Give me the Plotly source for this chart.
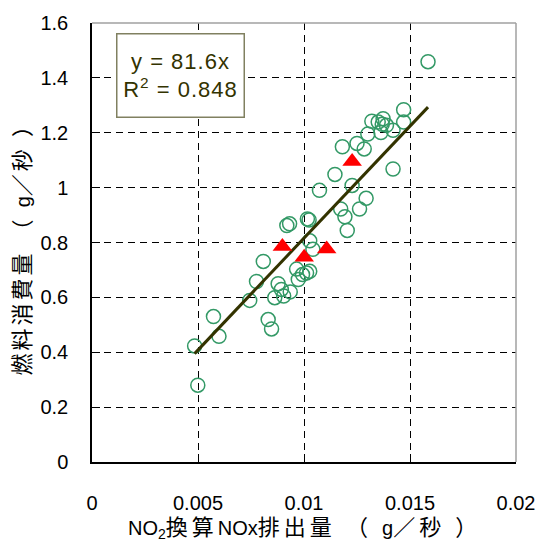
import plotly.graph_objects as go
import numpy as np

# green open circles: NOx emission (g/s) vs fuel consumption (g/s)
nox_circles = [
    0.00499, 0.00484, 0.00573, 0.00599, 0.00744, 0.00776, 0.00808, 0.00831,
    0.00847, 0.00878, 0.00893, 0.00862, 0.00904, 0.00935, 0.00919, 0.00932,
    0.01016, 0.01024, 0.01027, 0.01042, 0.00965, 0.00973, 0.00993, 0.01012,
    0.01027, 0.01073, 0.01173, 0.01193, 0.01204, 0.01262, 0.01293, 0.01227,
    0.01585, 0.01470, 0.01470, 0.01320, 0.01350, 0.01373, 0.01369, 0.01389,
    0.01363, 0.01420, 0.01301, 0.01250, 0.01284, 0.01181, 0.01420, 0.01146,
]
fuel_circles = [
    0.280, 0.423, 0.530, 0.458, 0.589, 0.658, 0.731, 0.519,
    0.485, 0.650, 0.629, 0.599, 0.605, 0.620, 0.862, 0.868,
    0.886, 0.882, 0.806, 0.775, 0.703, 0.665, 0.683, 0.689,
    0.695, 0.990, 0.922, 0.894, 0.844, 0.922, 0.961, 1.008,
    1.459, 1.284, 1.239, 1.242, 1.239, 1.251, 1.231, 1.227,
    1.201, 1.209, 1.195, 1.161, 1.141, 1.149, 1.068, 1.048,
]

# red triangles
nox_tri = [0.00898, 0.01001, 0.01107, 0.01227]
fuel_tri = [0.785, 0.746, 0.776, 1.095]

slope = 81.6
r2 = 0.848

x_ticks = [0, 0.005, 0.01, 0.015, 0.02]
x_tick_text = ["0", "0.005", "0.01", "0.015", "0.02"]
y_ticks = [0, 0.2, 0.4, 0.6, 0.8, 1.0, 1.2, 1.4, 1.6]
y_tick_text = ["0", "0.2", "0.4", "0.6", "0.8", "1", "1.2", "1.4", "1.6"]

FONT = "Liberation Sans, Arial, Noto Sans CJK JP"
CJKX = "font-size:22px;letter-spacing:4px"
CJKY = "font-size:22px;letter-spacing:3px"

x_title = (f"NO<sub>2</sub><span style='{CJKX}'>換算</span>NOx"
           f"<span style='{CJKX}'>排出量 （ </span>g<span style='{CJKX}'>／秒 ）</span>")
y_title = f"<span style='{CJKY}'>燃料消費量 （ </span>g<span style='{CJKY}'>／秒 ）</span>"

fig = go.Figure()
fig.add_trace(go.Scatter(
    x=nox_circles, y=fuel_circles, mode="markers",
    marker=dict(symbol="circle-open", size=14, color="rgb(51,153,102)",
                line=dict(width=1.5, color="rgb(51,153,102)")),
    showlegend=False, hoverinfo="skip"))

xl = np.array([min(nox_circles + nox_tri), max(nox_circles + nox_tri)])
fig.add_trace(go.Scatter(
    x=xl, y=slope * xl, mode="lines",
    line=dict(color="#333300", width=3), showlegend=False, hoverinfo="skip"))

fig.add_trace(go.Scatter(
    x=nox_tri, y=fuel_tri, mode="markers",
    marker=dict(symbol="triangle-up", size=17, color="#ff0000"),
    showlegend=False, hoverinfo="skip"))

fig.update_layout(
    width=547, height=549,
    margin=dict(l=91.5, r=24, t=15, b=87, pad=0),
    paper_bgcolor="white", plot_bgcolor="white",
    font=dict(family=FONT, size=20, color="black"),
    xaxis=dict(range=[0, 0.02], tickvals=x_ticks, ticktext=x_tick_text,
               showline=True, linecolor="black", linewidth=1.5,
               ticks="inside", ticklen=8, tickcolor="black", tickwidth=1,
               showgrid=True, gridcolor="black", gridwidth=1, griddash="7px,5px",
               zeroline=False, ticklabelstandoff=22,
               tickfont=dict(family=FONT, size=20)),
    yaxis=dict(range=[0, 1.6], tickvals=y_ticks, ticktext=y_tick_text,
               showline=True, linecolor="black", linewidth=1.5,
               ticks="inside", ticklen=8, tickcolor="black", tickwidth=1,
               showgrid=True, gridcolor="black", gridwidth=1, griddash="7px,5px",
               zeroline=False, ticklabelstandoff=18,
               tickfont=dict(family=FONT, size=20)),
    shapes=[
        dict(type="line", xref="paper", yref="paper", x0=0, x1=1, y0=1, y1=1,
             line=dict(color="#a0a0a0", width=1.5)),
        dict(type="line", xref="paper", yref="paper", x0=1, x1=1, y0=0, y1=1,
             line=dict(color="#a0a0a0", width=1.5)),
    ],
    annotations=[
        dict(xref="paper", yref="paper", x=0.2086, y=0.8815,
             xanchor="center", yanchor="middle", showarrow=False,
             text=(f"<span style='letter-spacing:1px'>y = {slope}x</span><br>"
                   f"<span style='letter-spacing:1px'>R<sup>2</sup> = {r2}</span>"),
             font=dict(family=FONT, size=22, color="#333300"),
             bgcolor="white", bordercolor="#808060", borderwidth=1.5,
             borderpad=3, width=120, height=76, align="center"),
        dict(xref="paper", yref="paper", x=(308 - 91.5) / 431.5, y=(462.3 - 530) / 447.3,
             xanchor="center", yanchor="middle", showarrow=False,
             text=x_title, font=dict(family=FONT, size=20, color="black")),
        dict(xref="paper", yref="paper", x=(21 - 91.5) / 431.5, y=(462.3 - 240) / 447.3,
             xanchor="center", yanchor="middle", showarrow=False, textangle=-90,
             text=y_title, font=dict(family=FONT, size=20, color="black")),
    ],
)

fig.write_html("out.html")
